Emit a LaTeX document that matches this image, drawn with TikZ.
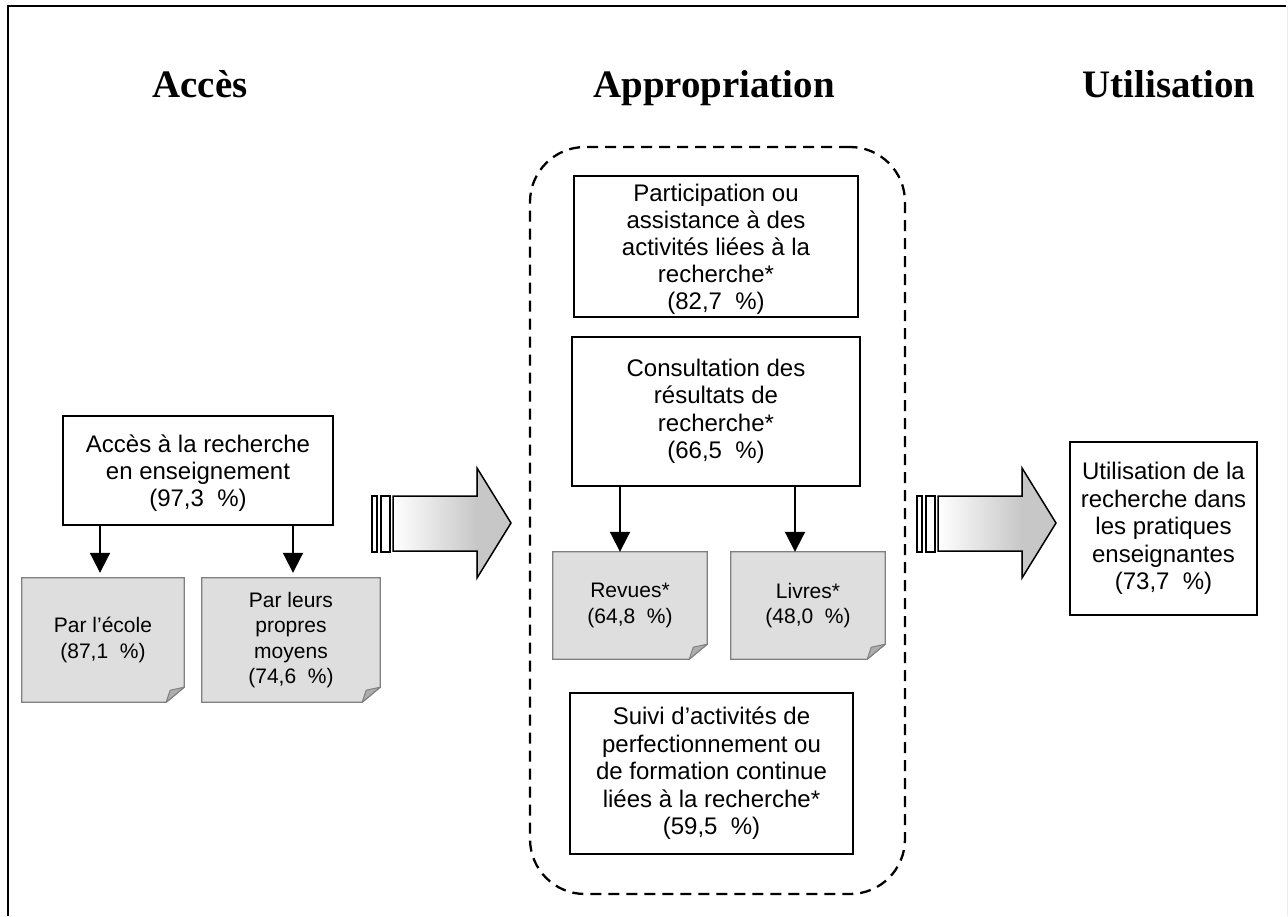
\documentclass[tikz,border=0pt]{standalone}
\usepackage{fontspec}
\setmainfont{Liberation Sans}
\newfontfamily\headfont{Liberation Serif}
\usetikzlibrary{arrows.meta,backgrounds}
\definecolor{notefill}{gray}{0.87}
\definecolor{foldfill}{gray}{0.68}
\definecolor{notedraw}{gray}{0.5}
\definecolor{arrowgray}{gray}{0.78}
\newcommand\notepaper[1]{%
  \begin{scope}[on background layer]
    \filldraw[fill=notefill,draw=notedraw,line width=1.3pt]
      (#1.north west) -- (#1.north east) -- ([yshift=15pt]#1.south east)
      -- ([xshift=-18pt]#1.south east) -- (#1.south west) -- cycle;
    \filldraw[fill=foldfill,draw=notedraw,line width=1pt,line join=round]
      ([xshift=-18pt]#1.south east) -- ([yshift=15pt]#1.south east)
      -- ([xshift=-14pt,yshift=12pt]#1.south east) -- cycle;
  \end{scope}}
\newcommand\bigarrow[1]{%
  \begin{scope}[xshift=#1]
    \fill[left color=white,right color=arrowgray] (393,496) rectangle (477,551);
    \fill[arrowgray] (476,468) -- (511,523) -- (476,578) -- cycle;
    \draw[line width=1.5pt,line join=miter]
      (393,496) -- (477,496) -- (477,468) -- (511,523) -- (477,578)
      -- (477,551) -- (393,551) -- cycle;
    \draw[line width=1.3pt,fill=white] (372,496) rectangle (377,552);
    \draw[line width=1.3pt,fill=white] (381,496) rectangle (390,552);
  \end{scope}}
\begin{document}
\begin{tikzpicture}[x=1pt,y=-1pt,
  box/.style={draw,line width=1.5pt,fill=white,inner sep=0pt,align=center,
    font=\fontsize{24}{27.5}\selectfont},
  boxtext/.style={inner sep=0pt,align=center,font=\fontsize{24}{27}\selectfont},
  notebox/.style={inner sep=0pt,align=center,font=\fontsize{21}{25.5}\selectfont},
  heading/.style={anchor=base,font=\headfont\bfseries\fontsize{38.9}{42}\selectfont},
  arr/.style={line width=2pt,-{Triangle[width=20pt,length=20pt]}},
  container/.style={draw,line width=2.3pt,dash pattern=on 11pt off 7pt,
    rounded corners=55pt,inner sep=0pt}
  ]
\useasboundingbox (0,0) rectangle (1288,916);
% frame
\draw[line width=2pt] (8,916) -- (8,6) -- (1286,6);
\draw[gray!15,line width=1pt] (1287,6) -- (1287,916);

% headings
\node[heading] (hacces) at (200,97) {Accès};
\node[heading] (happ) at (714,97) {Appropriation};
\node[heading] (hutil) at (1169,97) {Utilisation};

% container
\node[container,minimum width=375pt,minimum height=747pt] (approp) at (717.5,520.5) {};

% left part
\node[box,minimum width=270pt,minimum height=109pt] (acces) at (198,470.5) {};
\node[boxtext] (accestext) at (198,473.5)
  {Accès à la recherche\\en enseignement\\(97,3\ \ \%)};
\node[notebox,minimum width=162pt,minimum height=124pt] (ecole) at (103,640)
  {Par l’école\\(87,1\ \ \%)};
\node[notebox,minimum width=178pt,minimum height=124pt] (moyens) at (291,640)
  {Par leurs\\propres\\moyens\\(74,6\ \ \%)};
\notepaper{ecole}
\notepaper{moyens}
\coordinate (a1) at (100,0);
\coordinate (a2) at (293,0);
\draw[arr] (acces.south -| a1) -- ([yshift=5pt]ecole.north -| a1);
\draw[arr] (acces.south -| a2) -- ([yshift=5pt]moyens.north -| a2);

% middle part
\node[box,minimum width=284pt,minimum height=141pt] (part) at (716,246.5) {};
\node[boxtext] (parttext) at (716,249)
  {Participation ou\\assistance à des\\activités liées à la\\recherche*\\(82,7\ \ \%)};
\node[box,minimum width=288pt,minimum height=149pt] (consult) at (716,411.5)
  {Consultation des\\résultats de\\recherche*\\(66,5\ \ \%)};
\node[notebox,minimum width=154pt,minimum height=107pt] (revues) at (630,605.5)
  {Revues*\\(64,8\ \ \%)};
\node[notebox,minimum width=154pt,minimum height=107pt] (livres) at (808,605.5)
  {Livres*\\(48,0\ \ \%)};
\notepaper{revues}
\notepaper{livres}
\coordinate (b1) at (620,0);
\coordinate (b2) at (795,0);
\draw[arr] (consult.south -| b1) -- (revues.north -| b1);
\draw[arr] (consult.south -| b2) -- (livres.north -| b2);
\node[box,minimum width=283pt,minimum height=161pt] (suivi) at (711.5,773.5)
  {Suivi d’activités de\\perfectionnement ou\\de formation continue\\liées à la recherche*\\(59,5\ \ \%)};

% right part
\node[box,minimum width=187pt,minimum height=173pt] (util) at (1163.5,528.5)
  {Utilisation de la\\recherche dans\\les pratiques\\enseignantes\\(73,7\ \ \%)};

% big arrows
\bigarrow{0pt}
\bigarrow{545pt}
\end{tikzpicture}
\end{document}
